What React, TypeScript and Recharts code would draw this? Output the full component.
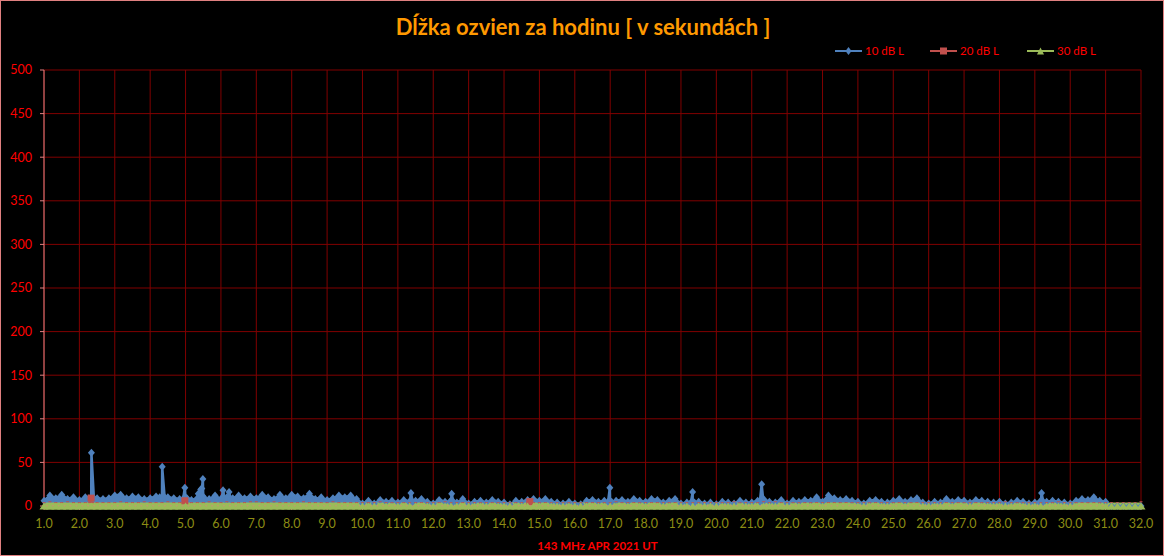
import React from 'react';
import { ComposedChart, Area, XAxis, YAxis, CartesianGrid } from 'recharts';

// days of April 2021 on the x axis, one sample every 4 hours
const DAY_TICKS = [1, 2, 3, 4, 5, 6, 7, 8, 9, 10, 11, 12, 13, 14, 15, 16, 17, 18, 19, 20, 21, 22, 23, 24, 25, 26, 27, 28, 29, 30, 31, 32];
const Y_TICKS = [0, 50, 100, 150, 200, 250, 300, 350, 400, 450, 500];
const SAMPLES_PER_DAY = 6;

// 10 dB L
const blue10 = [
  6, 12, 9, 13, 8, 10,
  7, 10, 8, 9, 8, 9,
  12, 13, 9, 11, 10, 8,
  9, 11, 8, 10, 9, 8,
  10, 7, 9, 11, 8, 12,
  8, 10, 9, 12, 9, 11,
  9, 13, 10, 8, 13, 9,
  13, 11, 9, 14, 8, 10,
  7, 9, 12, 10, 12, 8,
  3, 6, 3, 7, 5, 6,
  4, 7, 4, 6, 8, 5,
  3, 7, 5, 6, 4, 8,
  3, 5, 6, 4, 7, 5,
  4, 2, 6, 5, 7, 8,
  6, 8, 5, 4, 3, 5,
  3, 2, 6, 7, 5, 6,
  4, 6, 7, 5, 8, 6,
  5, 8, 7, 4, 6, 8,
  3, 4, 2, 5, 3, 4,
  2, 5, 4, 3, 6, 4,
  4, 6, 8, 5, 4, 7,
  3, 6, 5, 7, 6, 10,
  5, 12, 9, 7, 8, 6,
  5, 3, 6, 7, 5, 4,
  6, 8, 5, 7, 9, 4,
  3, 5, 4, 8, 5, 7,
  6, 4, 7, 6, 5, 4,
  5, 3, 4, 6, 5, 3,
  4, 3, 5, 6, 5, 4,
  3, 6, 8, 7, 10, 6,
  5, 0, 0, 0, 0, 0,
  0,
];

// 20 dB L
const red20 = [
  1, 2, 1, 1, 2, 1,
  1, 1, 2, 1, 1, 1,
  1, 2, 1, 1, 1, 2,
  1, 1, 1, 2, 1, 1,
  2, 1, 1, 1, 2, 1,
  1, 2, 1, 1, 1, 2,
  2, 1, 1, 2, 1, 1,
  1, 1, 2, 1, 1, 1,
  1, 2, 1, 1, 1, 1,
  1, 1, 1, 2, 1, 1,
  1, 1, 1, 1, 1, 1,
  1, 1, 2, 1, 1, 1,
  1, 1, 1, 1, 1, 1,
  1, 1, 1, 1, 2, 1,
  1, 1, 1, 1, 1, 1,
  1, 1, 1, 1, 1, 1,
  1, 2, 1, 1, 1, 1,
  1, 1, 1, 1, 1, 1,
  1, 1, 1, 1, 1, 1,
  1, 1, 1, 2, 1, 1,
  1, 1, 2, 1, 2, 1,
  1, 1, 1, 1, 1, 1,
  1, 1, 1, 1, 1, 1,
  1, 1, 1, 1, 1, 1,
  1, 1, 1, 1, 1, 1,
  1, 1, 1, 1, 1, 1,
  1, 1, 1, 1, 1, 1,
  1, 2, 1, 1, 1, 1,
  1, 1, 1, 1, 2, 1,
  1, 1, 1, 1, 1, 1,
  1, 1, 1, 1, 1, 1,
  2,
];

// 30 dB L
const green30 = [
  0, 0, 0, 0, 0, 0,
  0, 0, 0, 0, 0, 0,
  0, 0, 0, 0, 0, 0,
  0, 0, 0, 0, 0, 0,
  0, 0, 0, 0, 0, 0,
  0, 0, 0, 0, 0, 0,
  0, 0, 0, 0, 0, 0,
  0, 0, 0, 0, 0, 0,
  0, 0, 0, 0, 0, 0,
  0, 0, 0, 0, 0, 0,
  0, 0, 0, 0, 0, 0,
  0, 0, 0, 0, 0, 0,
  0, 0, 0, 0, 0, 0,
  0, 0, 0, 0, 0, 0,
  0, 0, 0, 0, 0, 0,
  0, 0, 0, 0, 0, 0,
  0, 0, 0, 0, 0, 0,
  0, 0, 0, 0, 0, 0,
  0, 0, 0, 0, 0, 0,
  0, 0, 0, 0, 0, 0,
  0, 0, 0, 0, 0, 0,
  0, 0, 0, 0, 0, 0,
  0, 0, 0, 0, 0, 0,
  0, 0, 0, 0, 0, 0,
  0, 0, 0, 0, 0, 0,
  0, 0, 0, 0, 0, 0,
  0, 0, 0, 0, 0, 0,
  0, 0, 0, 0, 0, 0,
  0, 0, 0, 0, 0, 0,
  0, 0, 0, 0, 0, 0,
  0, 0, 0, 0, 0, 0,
  0,
];

// short bursts between the 4-hour samples: [day, seconds]
const blueBursts: [number, number][] = [
  [2.27, 9], [2.34, 61], [2.41, 9],
  [4.27, 10], [4.34, 45], [4.41, 10],
  [4.93, 8], [4.98, 21], [5.04, 9],
  [5.36, 14], [5.43, 19], [5.46, 20], [5.49, 31], [5.55, 8],
  [6.01, 8], [6.06, 18], [6.11, 8],
  [6.18, 8], [6.23, 16], [6.28, 8],
  [11.32, 5], [11.37, 15], [11.42, 5],
  [12.47, 5], [12.52, 14], [12.57, 5],
  [16.94, 5], [16.99, 21], [17.04, 5],
  [19.28, 4], [19.33, 16], [19.38, 4],
  [21.23, 5], [21.28, 25], [21.33, 5],
  [29.14, 5], [29.19, 15], [29.24, 5],
];
const redBursts: [number, number][] = [
  [2.29, 1], [2.33, 9], [2.37, 1],
  [4.95, 1], [4.98, 6], [5.01, 1],
  [14.70, 1], [14.73, 5], [14.76, 1],
];

type Row = { x: number; b?: number; r?: number; g?: number };
const rows: Row[] = blue10.map((v, i) => ({ x: 1 + i / SAMPLES_PER_DAY, b: v, r: red20[i], g: green30[i] }));
blueBursts.forEach(([x, v]) => rows.push({ x, b: v }));
redBursts.forEach(([x, v]) => rows.push({ x, r: v }));
rows.sort((a, b) => a.x - b.x);

const BLUE = '#4F81BD';
const RED = '#C0504D';
const GREEN = '#9BBB59';
const FONT = 'Lato, "Open Sans", sans-serif';

const Diamond = (props: any) => {
  const { cx, cy, index } = props;
  if (cx == null || cy == null) return <g key={`b${index}`} />;
  return <path key={`b${index}`} d={`M${cx},${cy - 4}L${cx + 3.5},${cy}L${cx},${cy + 4}L${cx - 3.5},${cy}Z`} fill={BLUE} />;
};
// low values only peek out above the green band as a thin dotted edge
const Square = (props: any) => {
  const { cx, cy, index, value } = props;
  if (cx == null || cy == null) return <g key={`r${index}`} />;
  const v = Array.isArray(value) ? value[1] : value;
  if (v != null && v <= 2) {
    return <rect key={`r${index}`} x={cx - 1.5} y={cy - 3} width={3} height={1} fill={RED} />;
  }
  return <rect key={`r${index}`} x={cx - 3.5} y={cy - 3.5} width={7} height={7} fill={RED} />;
};
const Triangle = (props: any) => {
  const { cx, cy, index } = props;
  if (cx == null || cy == null) return <g key={`g${index}`} />;
  return <path key={`g${index}`} d={`M${cx},${cy - 3.5}L${cx + 4.5},${cy + 3.5}L${cx - 4.5},${cy + 3.5}Z`} fill={GREEN} />;
};

const legendItems = [
  { name: '10 dB L', color: BLUE, left: 835, marker: 'diamond' },
  { name: '20 dB L', color: RED, left: 930, marker: 'square' },
  { name: '30 dB L', color: GREEN, left: 1027, marker: 'triangle' },
];

function LegendMarker({ color, marker }: { color: string; marker: string }) {
  return (
    <svg width={27} height={10} style={{ display: 'block' }}>
      <line x1={0} y1={5} x2={27} y2={5} stroke={color} strokeWidth={2} />
      {marker === 'diamond' && <path d="M13.5,1L16.5,5L13.5,9L10.5,5Z" fill={color} />}
      {marker === 'square' && <rect x={10} y={1.5} width={7} height={7} fill={color} />}
      {marker === 'triangle' && <path d="M13.5,1.5L17,8.5L10,8.5Z" fill={color} />}
    </svg>
  );
}

export default function App() {
  return (
    <div
      style={{
        position: 'absolute',
        left: 0,
        top: 0,
        width: 1164,
        height: 556,
        background: '#000',
        border: '1px solid #E08080',
        boxSizing: 'border-box',
        fontFamily: FONT,
        overflow: 'hidden',
      }}
    >
      <div
        style={{
          position: 'absolute',
          top: 12,
          left: 0,
          width: 1164,
          textAlign: 'center',
          color: '#FF9900',
          fontWeight: 'bold',
          fontSize: 22,
        }}
      >
        Dĺžka ozvien za hodinu [ v sekundách ]
      </div>
      {legendItems.map((item) => (
        <div
          key={item.name}
          style={{ position: 'absolute', top: 43, left: item.left - 1, display: 'flex', alignItems: 'center', gap: 3 }}
        >
          <LegendMarker color={item.color} marker={item.marker} />
          <span style={{ color: '#FF0000', fontSize: 11.5 }}>{item.name}</span>
        </div>
      ))}
      <div style={{ position: 'absolute', left: -1, top: -1 }}>
        <ComposedChart width={1164} height={556} data={rows} margin={{ top: 70, right: 23, bottom: 0, left: 0 }}>
          <CartesianGrid stroke="#800000" strokeWidth={1} />
          <XAxis
            dataKey="x"
            type="number"
            domain={[1, 32]}
            ticks={DAY_TICKS}
            tickFormatter={(v: number) => v.toFixed(1)}
            height={50}
            interval={0}
            stroke="#E08080"
            tickSize={4}
            tickMargin={9}
            tick={{ fill: '#8C8C14', fontSize: 12.5, fontFamily: FONT }}
            label={{
              value: '143 MHz APR 2021 UT',
              position: 'insideBottom',
              offset: 6,
              dx: 5,
              fill: '#FF0000',
              fontSize: 11.5,
              fontWeight: 'bold',
              fontFamily: FONT,
            }}
          />
          <YAxis
            type="number"
            domain={[0, 500]}
            ticks={Y_TICKS}
            width={44}
            stroke="#E08080"
            tickSize={4}
            tickMargin={8}
            tick={{ fill: '#FF0000', fontSize: 12.5, fontFamily: FONT }}
          />
          <Area
            dataKey="b"
            type="linear"
            stroke={BLUE}
            strokeWidth={2.5}
            fill={BLUE}
            fillOpacity={1}
            connectNulls
            dot={Diamond}
            activeDot={false}
            isAnimationActive={false}
          />
          <Area
            dataKey="r"
            type="linear"
            stroke={RED}
            strokeWidth={2}
            fill={RED}
            fillOpacity={1}
            connectNulls
            dot={Square}
            activeDot={false}
            isAnimationActive={false}
          />
          <Area
            dataKey="g"
            type="linear"
            stroke={GREEN}
            strokeWidth={7}
            fill={GREEN}
            fillOpacity={1}
            connectNulls
            dot={Triangle}
            activeDot={false}
            isAnimationActive={false}
          />
        </ComposedChart>
      </div>
    </div>
  );
}
